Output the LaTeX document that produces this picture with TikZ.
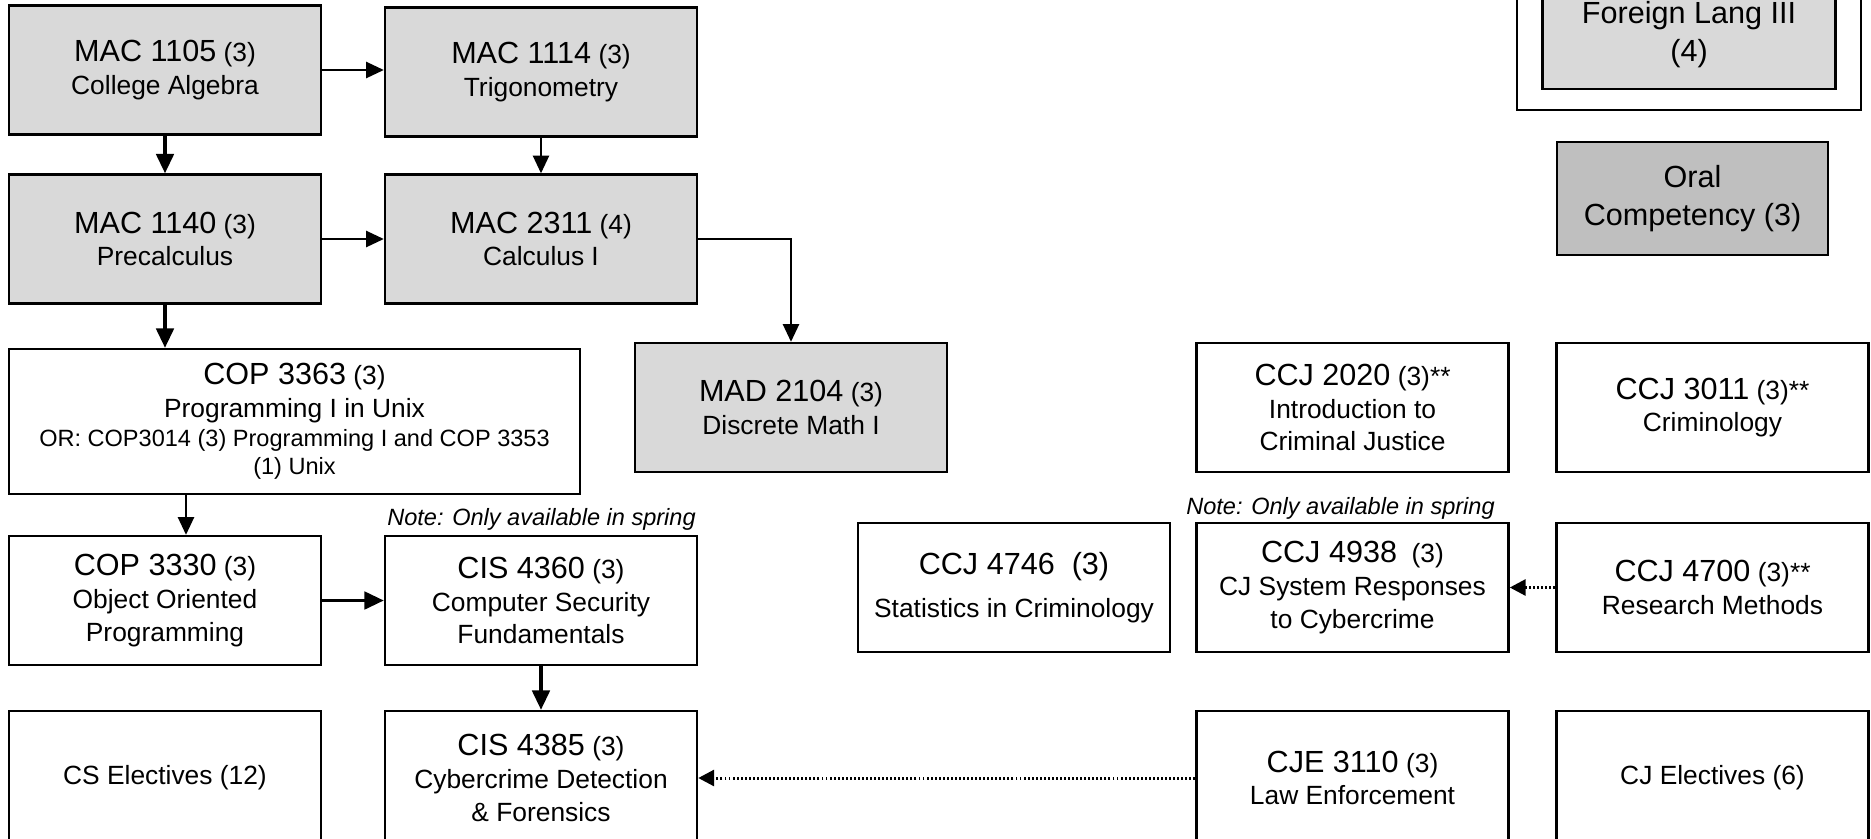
\documentclass[tikz,border=0pt]{standalone}
\usepackage{fontspec}
\setmainfont{Liberation Sans}
\usetikzlibrary{arrows.meta}

\definecolor{mathgray}{HTML}{D9D9D9}
\definecolor{oralgray}{HTML}{BFBFBF}
\newcommand{\ccode}[1]{{\fontsize{8.7}{9.3}\selectfont #1}}
\newcommand{\ornote}[1]{{\fontsize{6.7}{8}\selectfont #1}}

\tikzset{
  course/.style={draw, line width=0.7pt, align=center, inner sep=0pt,
    minimum width=31.2mm, minimum height=12.9mm, font=\fontsize{7.5}{9.3}\selectfont},
  mathcourse/.style={course, fill=mathgray},
  arr/.style={-{Triangle[length=5pt,width=4.6pt]}, line width=0.45pt},
  thickarr/.style={-{Triangle[length=5.5pt,width=5pt]}, line width=0.9pt},
  dotarr/.style={-{Triangle[length=4.5pt,width=4.5pt]}, line width=0.85pt,
    dash pattern=on 0.55pt off 0.6pt},
  springnote/.style={font=\fontsize{6.7}{8}\selectfont\itshape, inner sep=0pt},
}

\begin{document}
\begin{tikzpicture}[x=0.1mm,y=-0.1mm]
        \useasboundingbox (0,0) rectangle (1871,839);
        \clip (0,0) rectangle (1871,839);

        %% math
        \node[mathcourse] (mac1105) at (165,70)  {\ccode{MAC 1105} (3)\\College Algebra};
        \node[mathcourse] (mac1114) at (541,72)  {\ccode{MAC 1114} (3)\\Trigonometry};
        \node[mathcourse] (mac1140) at (165,239) {\ccode{MAC 1140} (3)\\Precalculus};
        \node[mathcourse] (mac2311) at (541,239) {\ccode{MAC 2311} (4)\\Calculus I};
        \node[mathcourse] (mad2104) at (791,407.5) {\ccode{MAD 2104} (3)\\Discrete Math I};

        \draw[arr] (mac1105.east) -- (mac1105.east -| mac1114.west);
        \draw[thickarr] (mac1105) -- (mac1140);
        \draw[arr] (mac1114) -- (mac2311);
        \draw[arr] (mac1140) -- (mac2311);
        \draw[arr] (mac2311.east) -| (mad2104.north);

        %% CS
        \node[course, minimum width=57.1mm, minimum height=14.5mm] (cop3363) at (294.5,421.5)
            {\ccode{COP 3363} (3)\\Programming I in Unix\\[-1pt]
             \ornote{OR: COP3014 (3) Programming I and COP 3353}\\[-1.2pt]
             \ornote{(1) Unix}};
        \node[course] (cop3330) at (165,600.5) {\ccode{COP 3330} (3)\\Object Oriented\\Programming};
        \node[course] (cis4360) at (541,600.5) {\ccode{CIS 4360} (3)\\Computer Security\\Fundamentals};
        \node[course, minimum height=13.4mm] (cselec) at (165,778) {CS Electives (12)};
        \node[course, minimum height=13.4mm] (cis4385) at (541,778)
            {\ccode{CIS 4385} (3)\\Cybercrime Detection\\\& Forensics};
        \node[springnote] (note1) at (541.5,519) {Note: Only available in spring};

        \draw[thickarr] (mac1140) -- (mac1140 |- cop3363.north);
        \draw[arr] ([xshift=2.1mm]cop3330.north |- cop3363.south) -- ([xshift=2.1mm]cop3330.north);
        \draw[thickarr] (cop3330) -- (cis4360);
        \draw[thickarr] (cis4360) -- (cis4385);

        %% CJ
        \node[course] (ccj4746) at (1014,587.5) {\ccode{CCJ 4746\ \ (3)}\\[3pt]Statistics in Criminology};
        \node[course] (ccj2020) at (1352.5,407.5) {\ccode{CCJ 2020} (3)**\\Introduction to\\Criminal Justice};
        \node[course] (ccj3011) at (1712.5,407.5) {\ccode{CCJ 3011} (3)**\\Criminology};
        \node[course] (ccj4938) at (1352.5,587.5) {\ccode{CCJ 4938}\ \ (3)\\CJ System Responses\\to Cybercrime};
        \node[course] (ccj4700) at (1712.5,587.5) {\ccode{CCJ 4700} (3)**\\Research Methods};
        \node[course, minimum height=13.4mm] (cje3110) at (1352.5,778) {\ccode{CJE 3110} (3)\\Law Enforcement};
        \node[course, minimum height=13.4mm] (cjelec) at (1712.5,778) {CJ Electives (6)};
        \node[springnote] (note2) at (1340.5,508) {Note: Only available in spring};

        \draw[dotarr] (ccj4700) -- (ccj4938);
        \draw[dotarr] (cje3110) -- (cis4385);

        %% gen ed
        \draw[line width=0.45pt] (1517,-40) rectangle (1861,110);
        \node[course, fill=mathgray, minimum width=29.3mm, minimum height=10.9mm,
              font=\fontsize{8.7}{10.8}\selectfont] (forlang) at (1689,34.5) {Foreign Lang III\\(4)};
        \node[course, fill=oralgray, minimum width=27.1mm, minimum height=11.3mm,
              font=\fontsize{8.7}{10.8}\selectfont] (oral) at (1692.5,198.5) {Oral\\Competency (3)};

\end{tikzpicture}
\end{document}
